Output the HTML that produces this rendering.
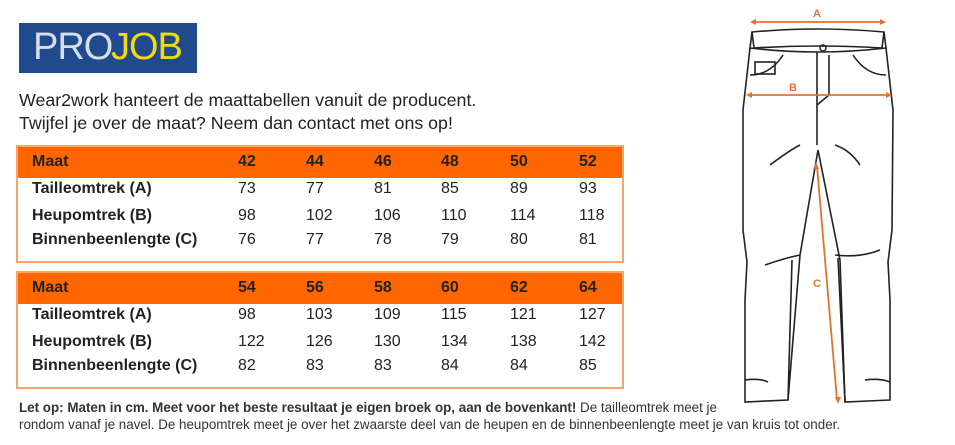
<!DOCTYPE html>
<html><head><meta charset="utf-8"><style>
body{margin:0;width:955px;height:445px;background:#fff;font-family:"Liberation Sans",sans-serif;color:#222;position:relative;overflow:hidden}
.abs{position:absolute}
.logo{left:19px;top:23px;width:178px;height:50px;background:#1f4a8e}
.logo span{position:absolute;top:3px;font-size:38px;letter-spacing:-1px}
.intro{left:19px;font-size:17.8px;color:#222;white-space:nowrap}
.tbl{left:16px;width:608px;border:2px solid #f7a46e;box-sizing:border-box}
.hd{background:#ff6600;height:31px;position:relative}
.c{position:absolute;font-size:16px;white-space:nowrap}
.b{font-weight:bold}
.foot{left:19px;font-size:13.4px;color:#333;white-space:nowrap}
</style></head><body>
<div class="abs logo"><span style="left:14px;color:#d8dde6">PRO</span><span style="left:92px;color:#f5d80f">JOB</span></div>
<div class="abs intro" style="top:90px">Wear2work hanteert de maattabellen vanuit de producent.</div>
<div class="abs intro" style="top:113px">Twijfel je over de maat? Neem dan contact met ons op!</div>

<div class="abs tbl" style="top:145px;height:118px">
 <div class="hd"></div>
</div>
<div class="abs tbl" style="top:271px;height:118px">
 <div class="hd"></div>
</div>

<div id="t"></div>
<script>
var xs=[238,306,374,441,510,579];
function tab(top,h,rows){
 var s='';
 var ys=[top+7,top+34,top+61,top+85];
 s+='<div class="abs c b" style="left:32px;top:'+ys[0]+'px">Maat</div>';
 h.forEach(function(v,i){s+='<div class="abs c b" style="left:'+xs[i]+'px;top:'+ys[0]+'px">'+v+'</div>'});
 rows.forEach(function(r,j){
  s+='<div class="abs c b" style="left:32px;top:'+ys[j+1]+'px">'+r[0]+'</div>';
  r[1].forEach(function(v,i){s+='<div class="abs c" style="left:'+xs[i]+'px;top:'+ys[j+1]+'px">'+v+'</div>'});
 });
 return s;
}
document.getElementById('t').innerHTML=
 tab(146,[42,44,46,48,50,52],[["Tailleomtrek (A)",[73,77,81,85,89,93]],["Heupomtrek (B)",[98,102,106,110,114,118]],["Binnenbeenlengte (C)",[76,77,78,79,80,81]]])+
 tab(272,[54,56,58,60,62,64],[["Tailleomtrek (A)",[98,103,109,115,121,127]],["Heupomtrek (B)",[122,126,130,134,138,142]],["Binnenbeenlengte (C)",[82,83,83,84,84,85]]]);
</script>

<div class="abs foot" style="top:400px"><b>Let op: Maten in cm. Meet voor het beste resultaat je eigen broek op, aan de bovenkant!</b> De tailleomtrek meet je</div>
<div class="abs foot" style="top:417px">rondom vanaf je navel. De heupomtrek meet je over het zwaarste deel van de heupen en de binnenbeenlengte meet je van kruis tot onder.</div>

<svg class="abs" style="left:0;top:0" width="955" height="445">
<g fill="none" stroke="#222" stroke-width="1.6">
<path d="M752 32 Q818 26 884 32 L886 48 L893 110 L892 230 L888 262 L890 300 L890 400 L845 402 L840 260 L818 150 L800 255 L788 400 L745 402 L745 300 L747 262 L743 230 L743 110 L750 48 Z"/>
<path d="M752 32 L754 48 Q818 44 882 48 L884 32"/>
<path d="M750 48 Q818 56 886 48"/>
<path d="M817 52 L817 145"/>
<path d="M829 55 L829 95 L817 105"/>
<path d="M750 75 Q770 75 783 55"/><path d="M886 75 Q866 75 853 55"/>
<rect x="755" y="62" width="20" height="12"/>
<path d="M788 400 L792 260"/><path d="M845 402 L838 258"/>
<path d="M745 380 Q760 378 768 382"/><path d="M865 380 Q880 378 890 382"/>
<path d="M770 165 Q790 150 800 145"/><path d="M835 145 Q850 150 860 165"/>
<path d="M765 265 Q785 258 800 255"/><path d="M835 255 Q860 258 880 250"/>
</g>
<circle cx="823" cy="48" r="3" fill="none" stroke="#222" stroke-width="1.5"/>
<g stroke="#e0742c" stroke-width="1.8" fill="#e0742c">
<line x1="754" y1="22" x2="882" y2="22"/>
<line x1="750" y1="95" x2="888" y2="95"/>
<line x1="817" y1="166" x2="837" y2="400"/>
</g>
<g fill="#e0742c" font-family="Liberation Sans,sans-serif" font-weight="bold" font-size="11" text-anchor="middle">
<text x="817" y="17">A</text><text x="793" y="91">B</text><text x="817" y="287">C</text>
</g>
<g fill="#e0742c">
<path d="M750 22 l6 -3 v6z"/><path d="M886 22 l-6 -3 v6z"/>
<path d="M746 95 l6 -3 v6z"/><path d="M892 95 l-6 -3 v6z"/>
<path d="M816 162 l-3 7 h6z"/><path d="M838 404 l-3 -7 h6z"/>
</g>
</svg>
</body></html>
